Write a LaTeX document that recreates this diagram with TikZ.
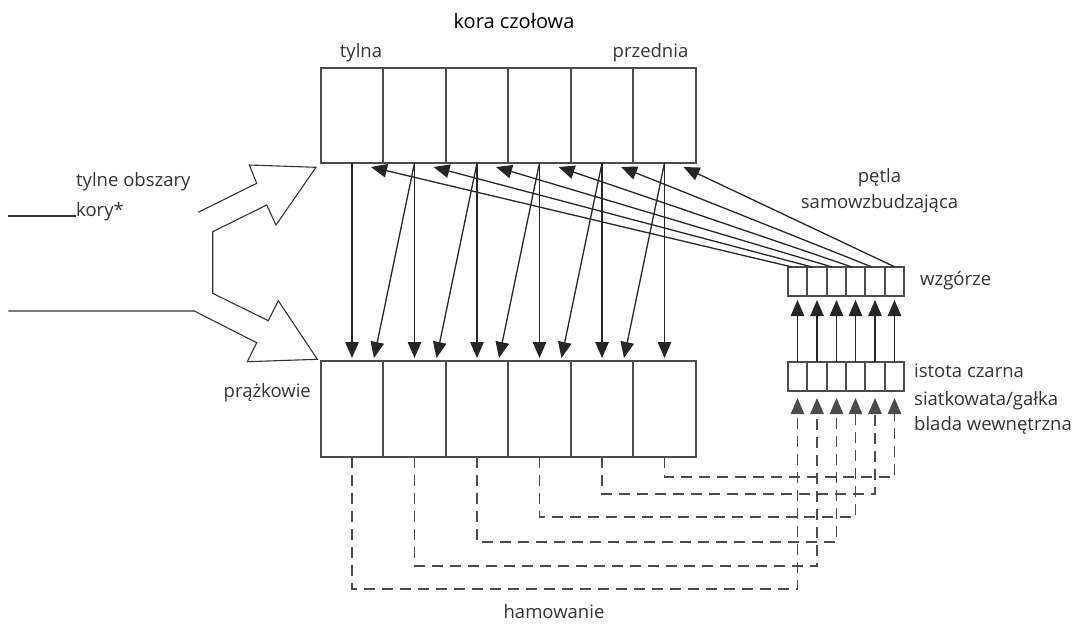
\documentclass[tikz,border=0pt]{standalone}
\usepackage{fontspec}
\setmainfont{Open Sans}
\usetikzlibrary{arrows.meta}
\begin{document}
\begin{tikzpicture}[x=1pt,y=-1pt,
  cell/.style={draw=black!70,line width=1.3pt,minimum height=95pt,inner sep=0pt,outer sep=0pt},
  small/.style={draw=black!70,line width=1.2pt,minimum height=29pt,inner sep=0pt,outer sep=0pt},
  arr/.style={draw=black!85,line width=1.3pt,-{Triangle[length=16pt,width=13.5pt]}},
  inh/.style={arr,draw=black!70,dash pattern=on 11pt off 7pt},
  lab/.style={font=\fontsize{18.5}{26}\selectfont,text=black!80,inner sep=0pt},
  title/.style={font=\fontsize{20}{26}\selectfont,text=black,inner sep=0pt},
  hollow/.style={draw=black!80,line width=1.1pt,line join=miter}]
\useasboundingbox (0,0) rectangle (1077,626);
% cells
\foreach \i/\l/\r in {1/321/383,2/383/446,3/446/508,4/508/571,5/571/633,6/633/696}{
  \node[cell,minimum width={(\r-\l)*1pt}] (c\i) at ({(\l+\r)/2},115.5) {};
  \node[cell,minimum width={(\r-\l)*1pt},minimum height=96pt] (s\i) at ({(\l+\r)/2},409) {};
}
\foreach \i/\l/\r in {1/788/807,2/807/827,3/827/846,4/846/865,5/865/885,6/885/904}{
  \node[small,minimum width={(\r-\l)*1pt}] (t\i) at ({(\l+\r)/2},281.5) {};
  \node[small,minimum width={(\r-\l)*1pt}] (n\i) at ({(\l+\r)/2},376.5) {};
}
% cortex -> striatum
\foreach \i in {1,...,6}{
  \draw[arr] (c\i.south) -- ([yshift=3pt]s\i.north);
}
\foreach \i [evaluate=\i as \j using int(\i+1)] in {1,...,5}{
  \draw[arr] (c\j.south) -- ([xshift=22pt,yshift=3pt]s\i.north);
}
% thalamus -> cortex
\foreach \i/\dx in {1/-5.5,2/-5,3/-4.5,4/-3.5,5/-3,6/0.5}{
  \draw[arr] ([xshift=\dx pt]t\i.north) -- ([xshift=19pt,yshift=-4pt]c\i.south);
}
% SN -> thalamus
\foreach \i in {1,...,6}{
  \draw[arr] (n\i.north) -- ([yshift=-4pt]t\i.south);
}
% inhibition
\foreach \i/\y in {1/589,2/566,3/542,4/517,5/494,6/477}{
  \coordinate (h\i) at (0,\y);
  \draw[inh] (s\i.south) -- (s\i.south |- h\i) -- (n\i.south |- h\i) -- ([yshift=-7pt]n\i.south);
}
% hollow input arrows
\draw[hollow] (198.3,212.3) -- (256.7,183.3) -- (249.3,165) -- (316,167.3) -- (276,225)
  -- (266.7,205) -- (212.7,231.7) -- (212.7,293.3) -- (268.3,320.7) -- (278.3,300.7)
  -- (317.3,359.3) -- (247.3,361.7) -- (256.7,342.7) -- (194.3,311) -- (8.3,311);
% labels
\node[title,anchor=base] (kc) at (514,29) {kora czołowa};
\node[lab,anchor=base] (ty) at (361,58) {tylna};
\node[lab,anchor=base] (pr) at (650.5,58) {przednia};
\node[lab,anchor=base west] (tob) at (76,186) {tylne obszary};
\node[lab,anchor=base west] (kory) at (76,216) {kory*};
\draw[hollow] (8,216) -- (kory.base west);
\node[lab,anchor=base] (p1) at (879.5,182) {pętla};
\node[lab,anchor=base] (p2) at (879.5,208) {samowzbudzająca};
\node[lab,anchor=base west] (wz) at (920,285) {wzgórze};
\node[lab,anchor=base west] (ic1) at (914,377) {istota czarna};
\node[lab,anchor=base west] (ic2) at (914,405) {siatkowata/gałka};
\node[lab,anchor=base west] (ic3) at (914,430) {blada wewnętrzna};
\node[lab,anchor=base east] (prz) at (311,397) {prążkowie};
\node[lab,anchor=base] (ham) at (554,618) {hamowanie};
\end{tikzpicture}
\end{document}
